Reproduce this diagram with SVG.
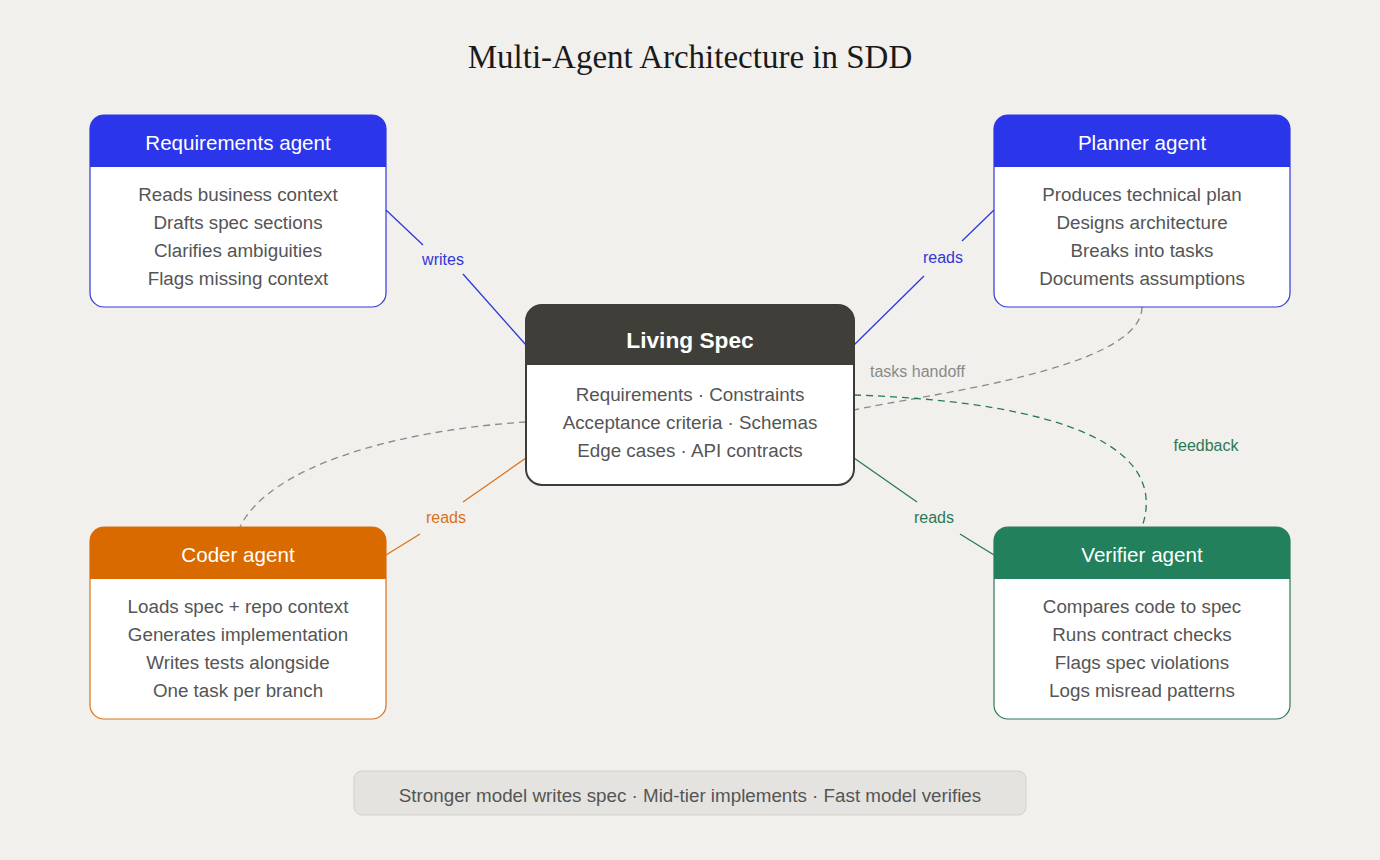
<svg xmlns="http://www.w3.org/2000/svg" width="1380" height="860" viewBox="0 0 1380 860">
<style>
.hd{font-family:"Liberation Sans",Arial,sans-serif;font-size:20.6px;fill:#fff;text-anchor:middle}
.bd{font-family:"Liberation Sans",Arial,sans-serif;font-size:18.8px;fill:#555;text-anchor:middle}
.lb{font-family:"Liberation Sans",Arial,sans-serif;font-size:16px}
.ln{fill:none;stroke-width:1.3}
.dash{fill:none;stroke-width:1.3;stroke-dasharray:7 5}
</style>
<rect width="1380" height="860" fill="#f2f0ed"/>
<text x="690" y="68" text-anchor="middle" font-family="'Liberation Serif','Times New Roman',serif" font-size="33" fill="#1a1a1a">Multi-Agent Architecture in SDD</text>

<g id="connectors">
<path class="dash" stroke="#8a8a8a" d="M1142 307 C1142 370 920 395 854 410"/>
<path class="dash" stroke="#2a7a55" d="M854 395 C1010 400 1175 430 1142 527"/>
<path class="dash" stroke="#8a8a8a" d="M526 422 C400 430 270 465 240 527"/>
<line class="ln" stroke="#3038d8" x1="386" y1="210" x2="423" y2="245"/>
<line class="ln" stroke="#3038d8" x1="463" y1="274" x2="526" y2="345"/>
<line class="ln" stroke="#3038d8" x1="994" y1="210" x2="962" y2="241"/>
<line class="ln" stroke="#3038d8" x1="924" y1="276" x2="854" y2="345"/>
<line class="ln" stroke="#d8731a" x1="526" y1="458" x2="463" y2="502"/>
<line class="ln" stroke="#d8731a" x1="420" y1="534" x2="386" y2="555"/>
<line class="ln" stroke="#2a7a55" x1="854" y1="458" x2="917" y2="502"/>
<line class="ln" stroke="#2a7a55" x1="960" y1="534" x2="994" y2="555"/>
</g>

<g id="requirements">
<rect x="90" y="115" width="296" height="192" rx="14" fill="#fff" stroke="#3038d8" stroke-width="1.2"/>
<path d="M90 167 V129 a14 14 0 0 1 14 -14 H372 a14 14 0 0 1 14 14 V167 Z" fill="#2b35ea"/>
<text class="hd" x="238" y="150">Requirements agent</text>
<text class="bd" x="238" y="201">Reads business context</text>
<text class="bd" x="238" y="229">Drafts spec sections</text>
<text class="bd" x="238" y="257">Clarifies ambiguities</text>
<text class="bd" x="238" y="285">Flags missing context</text>
</g>

<g id="planner">
<rect x="994" y="115" width="296" height="192" rx="14" fill="#fff" stroke="#3038d8" stroke-width="1.2"/>
<path d="M994 167 V129 a14 14 0 0 1 14 -14 H1276 a14 14 0 0 1 14 14 V167 Z" fill="#2b35ea"/>
<text class="hd" x="1142" y="150">Planner agent</text>
<text class="bd" x="1142" y="201">Produces technical plan</text>
<text class="bd" x="1142" y="229">Designs architecture</text>
<text class="bd" x="1142" y="257">Breaks into tasks</text>
<text class="bd" x="1142" y="285">Documents assumptions</text>
</g>

<g id="coder">
<rect x="90" y="527" width="296" height="192" rx="14" fill="#fff" stroke="#d8731a" stroke-width="1.2"/>
<path d="M90 579 V541 a14 14 0 0 1 14 -14 H372 a14 14 0 0 1 14 14 V579 Z" fill="#d96a00"/>
<text class="hd" x="238" y="562">Coder agent</text>
<text class="bd" x="238" y="613">Loads spec + repo context</text>
<text class="bd" x="238" y="641">Generates implementation</text>
<text class="bd" x="238" y="669">Writes tests alongside</text>
<text class="bd" x="238" y="697">One task per branch</text>
</g>

<g id="verifier">
<rect x="994" y="527" width="296" height="192" rx="14" fill="#fff" stroke="#2a7a55" stroke-width="1.2"/>
<path d="M994 579 V541 a14 14 0 0 1 14 -14 H1276 a14 14 0 0 1 14 14 V579 Z" fill="#22805c"/>
<text class="hd" x="1142" y="562">Verifier agent</text>
<text class="bd" x="1142" y="613">Compares code to spec</text>
<text class="bd" x="1142" y="641">Runs contract checks</text>
<text class="bd" x="1142" y="669">Flags spec violations</text>
<text class="bd" x="1142" y="697">Logs misread patterns</text>
</g>

<g id="living-spec">
<rect x="526" y="305" width="328" height="180" rx="16" fill="#fff" stroke="#3d3c37" stroke-width="2"/>
<path d="M526 365 V321 a16 16 0 0 1 16 -16 H838 a16 16 0 0 1 16 16 V365 Z" fill="#3f3e39"/>
<text x="690" y="348" text-anchor="middle" font-family="'Liberation Sans',Arial,sans-serif" font-size="22.7" font-weight="bold" fill="#fff">Living Spec</text>
<text class="bd" x="690" y="401">Requirements · Constraints</text>
<text class="bd" x="690" y="429">Acceptance criteria · Schemas</text>
<text class="bd" x="690" y="457">Edge cases · API contracts</text>
</g>

<g id="labels">
<text class="lb" x="443" y="265" fill="#3038d8" text-anchor="middle">writes</text>
<text class="lb" x="943" y="263" fill="#3038d8" text-anchor="middle">reads</text>
<text class="lb" x="446" y="523" fill="#d8731a" text-anchor="middle">reads</text>
<text class="lb" x="934" y="523" fill="#2a7a55" text-anchor="middle">reads</text>
<text class="lb" x="870" y="377" fill="#8a8a8a" text-anchor="start">tasks handoff</text>
<text class="lb" x="1206" y="451" fill="#2a7a55" text-anchor="middle">feedback</text>
</g>

<g id="footer">
<rect x="354" y="771" width="672" height="44" rx="8" fill="#e4e3df" stroke="#d2d0cb" stroke-width="1"/>
<text class="bd" x="690" y="802">Stronger model writes spec · Mid-tier implements · Fast model verifies</text>
</g>
</svg>
